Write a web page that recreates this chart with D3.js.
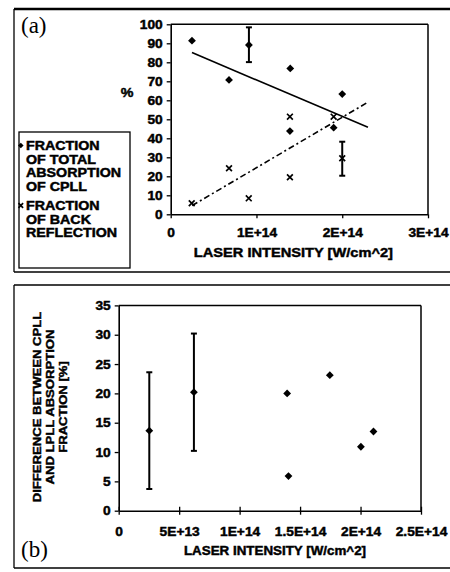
<!DOCTYPE html>
<html><head><meta charset="utf-8">
<script src="https://cdn.jsdelivr.net/npm/d3@7"></script>
<style>
body{margin:0;background:#fff;}
svg{display:block;}
</style></head>
<body>
<svg id="c" width="450" height="572"></svg>
<script>
// ---------- Panel (a) data ----------
const absX = [0.248e14, 0.68e14, 0.912e14, 1.394e14, 1.39e14, 1.9e14, 2.0e14];
const absY = [91.4, 70.7, 89.1, 76.8, 43.8, 45.6, 63.3];
const absErrIdx = [2];
const absErrLo = [80.1];
const absErrHi = [98.4];
const reflX = [0.245e14, 0.68e14, 0.91e14, 1.39e14, 1.39e14, 1.9e14, 2.0e14];
const reflY = [5.8, 24.2, 8.4, 19.5, 51.4, 51.4, 29.5];
const reflErrIdx = [6];
const reflErrLo = [20.3];
const reflErrHi = [38.2];
const absTrendX = [0.248e14, 2.3e14];
const absTrendY = [85.1, 45.8];
const reflTrendX = [0.25e14, 2.28e14];
const reflTrendY = [4.6, 58.5];
const aXTicks = [0, 1e14, 2e14, 3e14];
const aYTicks = [0,10,20,30,40,50,60,70,80,90,100];
const legendLinesAbs = ["FRACTION","OF TOTAL","ABSORPTION","OF CPLL"];
const legendLinesRefl = ["FRACTION","OF BACK","REFLECTION"];

// ---------- Panel (b) data ----------
const diffX = [2.53e13, 6.22e13, 1.393e14, 1.404e14, 1.746e14, 2.003e14, 2.107e14];
const diffY = [13.65, 20.2, 20.0, 5.9, 23.1, 10.9, 13.5];
const diffErrIdx = [0, 1];
const diffErrLo = [3.7, 10.2];
const diffErrHi = [23.6, 30.2];
const bXTicks = [0, 5e13, 1e14, 1.5e14, 2e14, 2.5e14];
const bYTicks = [0,5,10,15,20,25,30,35];
const bYTitle = ["DIFFERENCE BETWEEN CPLL","AND LPLL ABSORPTION","FRACTION [%]"];
const xTitle = "LASER INTENSITY [W/cm^2]";

const FONT = "'Liberation Sans', Arial, Helvetica, sans-serif";
const SX = 1.1;
const HEAVY = 0.45;

function fmtE(v){
  if (v === 0) return "0";
  const e = Math.floor(Math.log10(v) + 1e-9);
  const m = +(v/Math.pow(10,e)).toPrecision(3);
  return m + "E+" + e;
}

const svg = d3.select("#c");

function heavy(sel){
  return sel.attr("font-family", FONT).attr("font-weight","bold").attr("fill","#000")
    .attr("stroke","#000").attr("stroke-width",HEAVY).attr("paint-order","stroke");
}
function stext(g, x, y, str, size, anchor, sx){
  return heavy(g.append("text")
    .attr("transform", `translate(${x},${y}) scale(${sx},1)`)
    .attr("text-anchor", anchor)
    .attr("font-size", size))
    .text(str);
}

function diamond(g, cx, cy, r){
  g.append("path").attr("d", `M${cx},${cy-r}L${cx+r},${cy}L${cx},${cy+r}L${cx-r},${cy}Z`).attr("fill","#000");
}
function cross(g, cx, cy, r){
  g.append("path").attr("d", `M${cx-r},${cy-r}L${cx+r},${cy+r}M${cx-r},${cy+r}L${cx+r},${cy-r}`)
    .attr("stroke","#000").attr("stroke-width",1.7).attr("fill","none");
}
function errbar(g, cx, y1, y2, w){
  g.append("line").attr("x1",cx).attr("x2",cx).attr("y1",y1).attr("y2",y2).attr("stroke","#000").attr("stroke-width",2);
  g.append("line").attr("x1",cx-w).attr("x2",cx+w).attr("y1",y1).attr("y2",y1).attr("stroke","#000").attr("stroke-width",2);
  g.append("line").attr("x1",cx-w).attr("x2",cx+w).attr("y1",y2).attr("y2",y2).attr("stroke","#000").attr("stroke-width",2);
}
function styleAxis(g){
  g.select(".domain").attr("stroke","#000").attr("stroke-width",1.6);
  g.selectAll(".tick line").attr("stroke","#000").attr("stroke-width",1.3);
  heavy(g.selectAll(".tick text")).attr("font-size",12.5).attr("transform",`scale(${SX},1)`);
}

// ================= PANEL (a) =================
const A = svg.append("g");
A.append("line").attr("x1",14).attr("x2",450).attr("y1",9).attr("y2",9).attr("stroke","#000").attr("stroke-width",2.5);
A.append("line").attr("x1",14).attr("x2",14).attr("y1",9).attr("y2",272).attr("stroke","#000").attr("stroke-width",1.3);
A.append("line").attr("x1",14).attr("x2",450).attr("y1",272).attr("y2",272).attr("stroke","#000").attr("stroke-width",1.3);

const ax = d3.scaleLinear().domain([0,3e14]).range([170.7,428]);
const ay = d3.scaleLinear().domain([0,100]).range([214.3,24.3]);

A.append("line").attr("x1",ax(0)).attr("x2",ax(3e14)).attr("y1",ay(100)).attr("y2",ay(100)).attr("stroke","#000").attr("stroke-width",1.5);
A.append("line").attr("x1",ax(3e14)).attr("x2",ax(3e14)).attr("y1",ay(100)).attr("y2",ay(0)).attr("stroke","#000").attr("stroke-width",1.5);

const axB = A.append("g").attr("transform",`translate(0,${ay(0)})`)
  .call(d3.axisBottom(ax).tickValues(aXTicks).tickFormat(fmtE).tickSizeInner(4).tickSizeOuter(0).tickPadding(10));
const axL = A.append("g").attr("transform",`translate(${ax(0)},0)`)
  .call(d3.axisLeft(ay).tickValues(aYTicks).tickSizeInner(4).tickSizeOuter(0).tickPadding(4));
styleAxis(axB); styleAxis(axL);
axL.selectAll(".tick text").attr("x", -8/SX);

const lineGen = d3.line().x(d=>ax(d[0])).y(d=>ay(d[1]));
A.append("path").attr("d", lineGen(absTrendX.map((x,i)=>[x,absTrendY[i]]))).attr("stroke","#000").attr("stroke-width",1.6).attr("fill","none");
A.append("path").attr("d", lineGen(reflTrendX.map((x,i)=>[x,reflTrendY[i]]))).attr("stroke","#000").attr("stroke-width",1.6).attr("fill","none")
  .attr("stroke-dasharray","6,3,2,3");

absErrIdx.forEach((k,i)=>errbar(A, ax(absX[k]), ay(absErrHi[i]), ay(absErrLo[i]), 3));
reflErrIdx.forEach((k,i)=>errbar(A, ax(reflX[k]), ay(reflErrHi[i]), ay(reflErrLo[i]), 3));
absX.forEach((x,i)=>diamond(A, ax(x), ay(absY[i]), 3.9));
reflX.forEach((x,i)=>cross(A, ax(x), ay(reflY[i]), 2.9));

stext(A, 127, 97, "%", 13, "middle", SX);
A.append("text").attr("x",21).attr("y",33).attr("font-family","'Liberation Serif','Times New Roman',serif")
  .attr("font-size",23).text("(a)");
stext(A, (ax(0)+ax(3e14))/2 - 6, 257, xTitle, 13.3, "middle", SX);

A.append("rect").attr("x",19).attr("y",132).attr("width",111).attr("height",136)
  .attr("fill","none").attr("stroke","#000").attr("stroke-width",1.3);
legendLinesAbs.forEach((t,i)=>stext(A, 26, 150 + i*13.6, t, 12.2, "start", 1.17));
diamond(A, 20.8, 145.5, 2.8);
legendLinesRefl.forEach((t,i)=>stext(A, 26, 210 + i*13.6, t, 12.2, "start", 1.17));
cross(A, 20.8, 205.5, 2.3);

// ================= PANEL (b) =================
const B = svg.append("g");
B.append("line").attr("x1",14).attr("x2",450).attr("y1",285).attr("y2",285).attr("stroke","#000").attr("stroke-width",1.3);
B.append("line").attr("x1",14).attr("x2",14).attr("y1",285).attr("y2",568).attr("stroke","#000").attr("stroke-width",1.3);
B.append("line").attr("x1",14).attr("x2",450).attr("y1",568).attr("y2",568).attr("stroke","#000").attr("stroke-width",1.3);

const bx = d3.scaleLinear().domain([0,2.5e14]).range([118.7,421]);
const by = d3.scaleLinear().domain([0,35]).range([510.7,305.4]);

B.append("line").attr("x1",bx(0)).attr("x2",bx(2.5e14)).attr("y1",by(35)).attr("y2",by(35)).attr("stroke","#000").attr("stroke-width",1.5);
B.append("line").attr("x1",bx(2.5e14)).attr("x2",bx(2.5e14)).attr("y1",by(35)).attr("y2",by(0)).attr("stroke","#000").attr("stroke-width",1.5);

const bxB = B.append("g").attr("transform",`translate(0,${by(0)})`)
  .call(d3.axisBottom(bx).tickValues(bXTicks).tickFormat(fmtE).tickSizeInner(4).tickSizeOuter(0).tickPadding(12));
bxB.selectAll(".tick line").attr("y1",-4);
const byL = B.append("g").attr("transform",`translate(${bx(0)},0)`)
  .call(d3.axisLeft(by).tickValues(bYTicks).tickSizeInner(4).tickSizeOuter(0).tickPadding(4));
styleAxis(bxB); styleAxis(byL);
byL.selectAll(".tick text").attr("x", -8/SX);

diffErrIdx.forEach((k,i)=>errbar(B, bx(diffX[k]), by(diffErrHi[i]), by(diffErrLo[i]), 3));
diffX.forEach((x,i)=>diamond(B, bx(x), by(diffY[i]), 3.9));

B.append("text").attr("x",21).attr("y",557).attr("font-family","'Liberation Serif','Times New Roman',serif")
  .attr("font-size",23).text("(b)");
stext(B, 275, 555, xTitle, 12.5, "middle", 1.07);
bYTitle.forEach((t,i)=>{
  heavy(B.append("text").attr("transform",`translate(${41 + i*13},407) rotate(-90) scale(1.13,1)`)
    .attr("text-anchor","middle").attr("font-size",11.6)).text(t);
});
</script>
</body></html>
